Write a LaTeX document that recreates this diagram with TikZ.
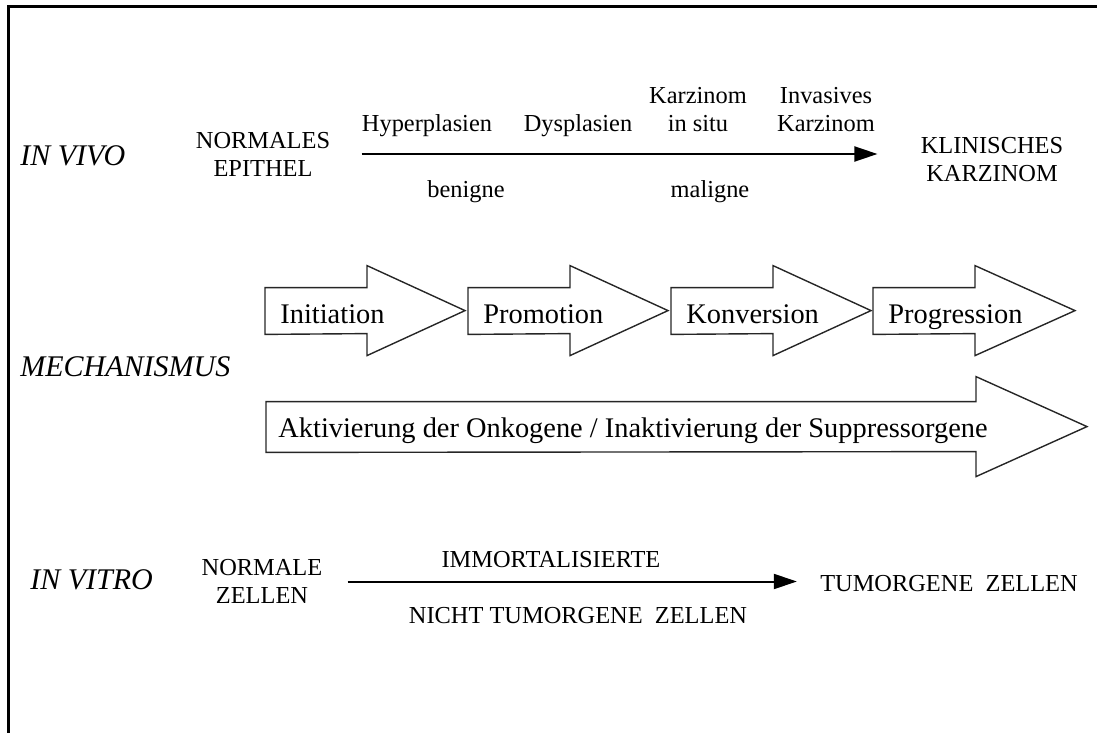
\documentclass[tikz,border=0pt]{standalone}
\usepackage{fontspec}
\setmainfont{Liberation Serif}
\usetikzlibrary{arrows.meta, positioning}

\begin{document}
\begin{tikzpicture}[
    x=0.5pt, y=-0.5pt,
    every node/.style={font=\fontsize{12.2}{14}\selectfont, inner sep=0pt},
    rowlabel/.style={font=\fontsize{15}{17}\selectfont\itshape, anchor=base west},
    txt/.style={align=center},
    flow/.style={line width=1pt, -{Triangle[length=11.5pt, width=7.5pt]}},
    stage/.style={font=\fontsize{14.2}{16}\selectfont, text height=14pt, text depth=2pt,
        minimum height=23pt, inner xsep=7.5pt, anchor=west},
    blockarrow/.style={line width=0.7pt, draw=black!85, line join=miter},
    frame/.style={line width=1.5pt}
]
\useasboundingbox (0,0) rectangle (1097,733);

% frame
\draw[frame] (8,733) -- (8,7) -- (1097,7);

% In vivo
\node[rowlabel] (vivo) at (20,165) {IN VIVO};
\node[txt] (epithel) at (263,154) {NORMALES\\EPITHEL};
\node[txt] (klin) at (992,160) {KLINISCHES\\KARZINOM};
\node[anchor=base] (hyper) at (427,132) {Hyperplasien};
\node[anchor=base] (dys) at (578,132) {Dysplasien};
\node[txt] (insitu) at (698,110) {Karzinom\\in situ};
\node[txt] (invasiv) at (826,110) {Invasives\\Karzinom};
\node[anchor=base] (benigne) at (466,197) {benigne};
\node[anchor=base] (maligne) at (710,197) {maligne};
\draw[flow, shorten <=15.5pt, shorten >=21.5pt] (epithel.east) -- (epithel.east -| klin.west);

% Mechanismus
\node[rowlabel] (mech) at (20,376) {MECHANISMUS};
\node[stage] (ini) at (265,311) {Initiation};
\node[stage, right=101.5pt of ini.west] (pro) {Promotion};
\node[stage, right=101.5pt of pro.west] (kon) {Konversion};
\node[stage, right=101pt of kon.west] (prog) {Progression};
\draw[blockarrow] (ini.north west) -- ++(51pt,0pt) -- ++(0pt,11pt) -- ++(49pt,-22.5pt)
    -- ++(-49pt,-22.5pt) -- ++(0pt,11pt) -- (ini.south west) -- cycle;
\draw[blockarrow] (pro.north west) -- ++(51pt,0pt) -- ++(0pt,11pt) -- ++(49pt,-22.5pt)
    -- ++(-49pt,-22.5pt) -- ++(0pt,11pt) -- (pro.south west) -- cycle;
\draw[blockarrow] (kon.north west) -- ++(51pt,0pt) -- ++(0pt,11pt) -- ++(49pt,-22.5pt)
    -- ++(-49pt,-22.5pt) -- ++(0pt,11pt) -- (kon.south west) -- cycle;
\draw[blockarrow] (prog.north west) -- ++(51pt,0pt) -- ++(0pt,11pt) -- ++(50pt,-22.5pt)
    -- ++(-50pt,-22.5pt) -- ++(0pt,11pt) -- (prog.south west) -- cycle;

\node[stage, minimum height=25pt, text height=12pt, inner xsep=6pt] (onko) at (266,427)
    {Aktivierung der Onkogene / Inaktivierung der Suppressorgene};
\draw[blockarrow] (onko.north west) -- ++(355pt,0pt) -- ++(0pt,12.5pt) -- ++(55.5pt,-25pt)
    -- ++(-55.5pt,-25pt) -- ++(0pt,12.5pt) -- (onko.south west) -- cycle;

% In vitro
\node[rowlabel] (vitro) at (30,589) {IN VITRO};
\node[txt] (normzell) at (262,581.5) {NORMALE\\ZELLEN};
\node[anchor=base] (tumor) at (949,591) {TUMORGENE\ \ ZELLEN};
\node[anchor=base] (immort) at (551,567) {IMMORTALISIERTE};
\node[anchor=base] (nicht) at (578,623) {NICHT TUMORGENE\ \ ZELLEN};
\draw[flow, shorten <=12.5pt, shorten >=11.5pt] (normzell.east) -- (normzell.east -| tumor.west);

\end{tikzpicture}
\end{document}
